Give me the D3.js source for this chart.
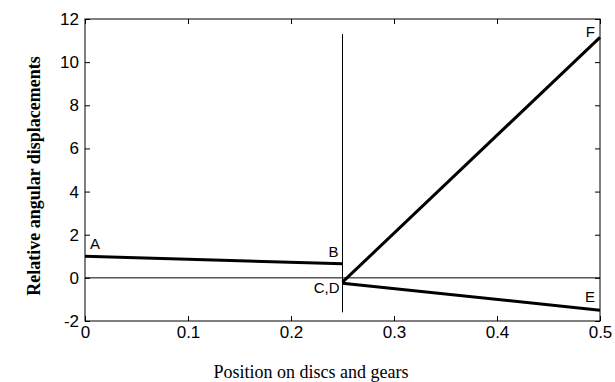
<!DOCTYPE html>
<html><head><meta charset="utf-8">
<script src="https://cdn.jsdelivr.net/npm/d3@7"></script>
<style>body{margin:0;background:#fff}svg{display:block}</style>
</head><body>
<svg id="c" width="615" height="382"></svg>
<script>
const xTicks = [0, 0.1, 0.2, 0.3, 0.4, 0.5];
const yTicks = [-2, 0, 2, 4, 6, 8, 10, 12];
const segAB = [[0, 1.0], [0.25, 0.65]];
const segDF = [[0.25, -0.2], [0.5, 11.15]];
const segDE = [[0.25, -0.25], [0.5, -1.5]];
const zeroLine = [[0, 0], [0.5, 0]];
const divider = [[0.25, 11.3], [0.25, -1.6]];
const pointLabels = [
  {t: "A", x: 0, y: 1.0, dx: 5, dy: -7, a: "start"},
  {t: "B", x: 0.25, y: 0.65, dx: -4, dy: -7, a: "end"},
  {t: "C,D", x: 0.25, y: -0.25, dx: -3, dy: 10, a: "end"},
  {t: "E", x: 0.5, y: -1.5, dx: -5, dy: -8, a: "end"},
  {t: "F", x: 0.5, y: 11.15, dx: -5, dy: 0, a: "end"}
];

const svg = d3.select("#c");
const L = 85, R = 600, T = 19, B = 321;
const x = d3.scaleLinear().domain([0, 0.5]).range([L, R]);
const y = d3.scaleLinear().domain([-2, 12]).range([B, T]);
const sans = "Liberation Sans, Arial, sans-serif";
const narrow = "Liberation Sans Narrow, Arial Narrow, Liberation Sans, sans-serif";
const fmt = d => String(d).replace("\u2212", "-");

const ax = (g, axis) => { g.call(axis); g.select(".domain").remove(); g.selectAll("line").attr("stroke","#000"); };
svg.append("g").attr("transform",`translate(0,${B})`)
  .call(g=>ax(g, d3.axisBottom(x).tickValues(xTicks).tickSize(-5).tickPadding(5).tickFormat(fmt)))
  .selectAll("text").attr("font-family",narrow).attr("font-size",17).attr("fill","#000");
svg.append("g").attr("transform",`translate(${L},0)`)
  .call(g=>ax(g, d3.axisLeft(y).tickValues(yTicks).tickSize(-5).tickPadding(6).tickFormat(fmt)))
  .selectAll("text").attr("font-family",narrow).attr("font-size",17).attr("fill","#000");
svg.append("g").attr("transform",`translate(0,${T})`)
  .call(g=>ax(g, d3.axisTop(x).tickValues(xTicks).tickSize(-5).tickFormat("")));
svg.append("g").attr("transform",`translate(${R},0)`)
  .call(g=>ax(g, d3.axisRight(y).tickValues(yTicks).tickSize(-5).tickFormat("")));

svg.append("rect").attr("x",L).attr("y",T).attr("width",R-L).attr("height",B-T)
  .attr("fill","none").attr("stroke","#000").attr("stroke-width",1);

const line = d3.line().x(d=>x(d[0])).y(d=>y(d[1]));
svg.append("path").attr("d",line(zeroLine)).attr("stroke","#000").attr("stroke-width",1).attr("fill","none");
svg.append("path").attr("d",line(divider)).attr("stroke","#000").attr("stroke-width",1).attr("fill","none");
[segAB, segDF, segDE].forEach(s=>{
  svg.append("path").attr("d",line(s)).attr("stroke","#000").attr("stroke-width",3).attr("fill","none");
});

pointLabels.forEach(p=>{
  svg.append("text").attr("x",x(p.x)+p.dx).attr("y",y(p.y)+p.dy)
    .attr("text-anchor",p.a).attr("font-family",sans).attr("font-size",15).text(p.t);
});

svg.append("text").attr("x",311).attr("y",378).attr("text-anchor","middle")
  .attr("font-family","Liberation Serif, Times New Roman, serif").attr("font-size",18).attr("fill","#000")
  .text("Position on discs and gears");
svg.append("text").attr("transform",`translate(40,176) rotate(-90)`).attr("text-anchor","middle")
  .attr("font-family","Liberation Serif, Times New Roman, serif").attr("font-size",18).attr("font-weight","bold")
  .text("Relative angular displacements");
</script>
</body></html>
